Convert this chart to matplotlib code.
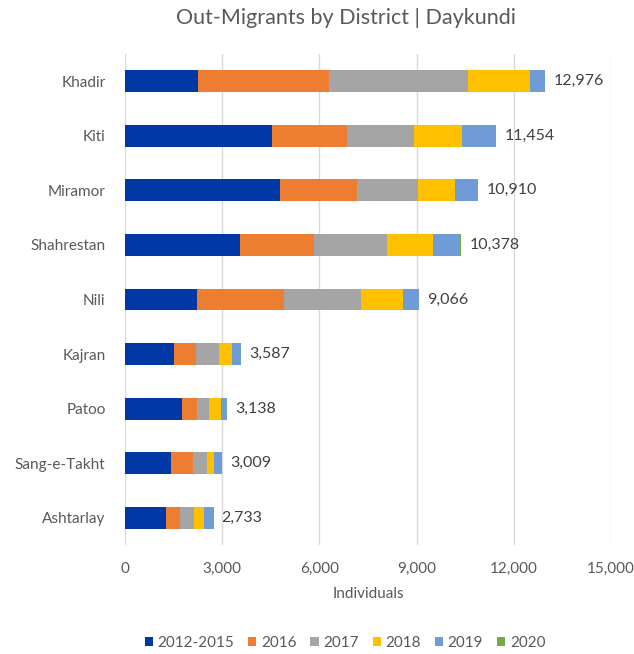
import matplotlib.pyplot as plt
import numpy as np

# Out-migrants per district, by year of departure
districts = ['Khadir', 'Kiti', 'Miramor', 'Shahrestan', 'Nili',
             'Kajran', 'Patoo', 'Sang-e-Takht', 'Ashtarlay']
years = ['2012-2015', '2016', '2017', '2018', '2019', '2020']
y2012_2015 = [2253, 4522, 4769, 3561, 2209, 1497, 1765, 1414, 1270]
y2016 = [4050, 2323, 2385, 2282, 2684, 702, 465, 692, 433]
y2017 = [4277, 2085, 1889, 2240, 2385, 712, 373, 434, 414]
y2018 = [1913, 1476, 1146, 1435, 1291, 393, 361, 217, 330]
y2019 = [483, 1048, 692, 830, 497, 283, 174, 252, 286]
y2020 = [0, 0, 29, 30, 0, 0, 0, 0, 0]
colors = ['#0039A6', '#ED7D31', '#A5A5A5', '#FFC000', '#6F9BD6', '#70AD47']

plt.rcParams['font.family'] = ['Lato', 'DejaVu Sans']
txt = '#595959'

series = [y2012_2015, y2016, y2017, y2018, y2019, y2020]
pos = np.arange(len(districts))

fig = plt.figure(figsize=(6.34, 6.54), dpi=100)
ax = fig.add_axes([125/634, 1-545/654, 486/634, 491/654])

left = np.zeros(len(districts))
for vals, lab, col in zip(series, years, colors):
    vals = np.array(vals, dtype=float)
    ax.barh(pos, vals, left=left, height=0.4, color=col, label=lab, zorder=3)
    left += vals

# total at the end of each bar
for p, tot in zip(pos, left):
    ax.text(tot + 250, p, '{:,.0f}'.format(tot), va='center', ha='left',
            fontsize=11.5, color='#404040')

ax.set_xlim(0, 15000)
ax.set_ylim(len(districts) - 0.5, -0.5)
ax.set_xticks(np.arange(0, 15001, 3000))
ax.set_xticklabels(['{:,}'.format(v) for v in range(0, 15001, 3000)])
ax.set_yticks(pos)
ax.set_yticklabels(districts)
ax.tick_params(axis='both', length=0, labelsize=11, colors=txt)
ax.tick_params(axis='x', pad=12)
ax.tick_params(axis='y', pad=14)
ax.grid(axis='x', color='#D9D9D9', linewidth=1, zorder=0)
for s in ax.spines.values():
    s.set_visible(False)

ax.set_xlabel('Individuals', fontsize=11, color=txt, labelpad=8)
fig.text(346/634, 1-18/654, 'Out-Migrants by District | Daykundi',
         ha='center', va='center', fontsize=15.5, color=txt)

ax.legend(loc='center', bbox_to_anchor=((345-125)/486, (545-643)/491), ncol=6,
          frameon=False, fontsize=11, handlelength=0.55, handleheight=0.55,
          handletextpad=0.3, columnspacing=0.9, labelcolor=txt)

fig.savefig('out.png', dpi=100)
